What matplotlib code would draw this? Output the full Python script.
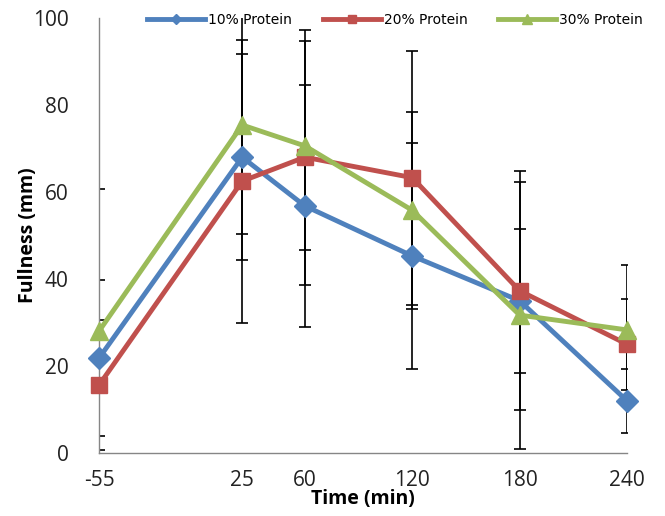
import matplotlib
matplotlib.use("Agg")
import matplotlib.pyplot as plt

time_min = [-55, 25, 60, 120, 180, 240]
x_ticklabels = ["-55", "25", "60", "120", "180", "240"]

p10 = [21.8, 68.0, 56.8, 45.3, 35.0, 12.0]
p10_err = [18.0, 23.7, 27.8, 26.0, 16.6, 7.3]
p20 = [15.6, 62.5, 68.0, 63.3, 37.3, 25.0]
p20_err = [15.0, 32.5, 29.3, 29.2, 27.5, 10.5]
p30 = [28.0, 75.4, 70.6, 55.8, 31.7, 28.3]
p30_err = [32.7, 25.0, 24.0, 22.7, 30.7, 15.0]

series = [
    ("10% Protein", p10, p10_err, "#4F81BD", "D", 11),
    ("20% Protein", p20, p20_err, "#C0504D", "s", 11),
    ("30% Protein", p30, p30_err, "#9BBB59", "^", 13),
]

fig = plt.figure(figsize=(6.65, 5.16), dpi=100)
ax = fig.add_axes([99/665, 1-453/516, (627-99)/665, (453-18)/516])

for name, y, e, c, m, ms in series:
    ax.errorbar(time_min, y, yerr=e, fmt="none", ecolor="black",
                elinewidth=1.2, capsize=4.5, capthick=1.2, zorder=2)
for name, y, e, c, m, ms in series:
    ax.plot(time_min, y, color=c, lw=3.5, marker=m, markersize=ms,
            label=name, clip_on=False, zorder=3)

ax.set_xlim(-55, 240)
ax.set_ylim(0, 100)
ax.set_xticks(time_min)
ax.set_xticklabels(x_ticklabels)
ax.set_yticks([0, 20, 40, 60, 80, 100])
for sp in ["top", "right"]:
    ax.spines[sp].set_visible(False)
for sp in ["left", "bottom"]:
    ax.spines[sp].set_color("#868686")
    ax.spines[sp].set_linewidth(1.0)
ax.tick_params(axis="both", length=0, labelsize=15, colors="#222222")
ax.tick_params(axis="y", pad=22)
ax.tick_params(axis="x", pad=12)
for lab in ax.get_xticklabels() + ax.get_yticklabels():
    lab.set_family(["Open Sans", "DejaVu Sans"])

ax.set_xlabel("Time (min)", fontsize=14, fontweight="bold",
              family=["Open Sans", "DejaVu Sans"], labelpad=-1)
ax.set_ylabel("Fullness (mm)", fontsize=14, fontweight="bold",
              family=["Open Sans", "DejaVu Sans"], labelpad=-4)

leg = ax.legend(loc="center", bbox_to_anchor=(395/665, 1-20/516),
                bbox_transform=fig.transFigure, ncol=3, frameon=False,
                fontsize=10, handlelength=4.2, handletextpad=0.2,
                columnspacing=2.2, markerscale=0.5)
for h in leg.get_lines():
    h.set_linewidth(3.5)

fig.savefig("out.png", dpi=100)
